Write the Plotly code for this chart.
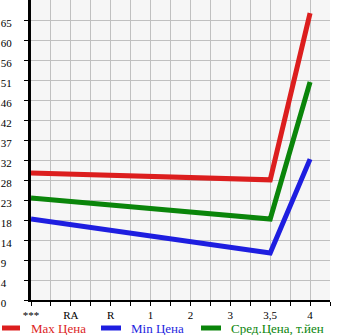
import plotly.graph_objects as go

categories = ["***", "RA", "R", "1", "2", "3", "3,5", "4"]
max_price = [29.5, None, None, None, None, None, 27.9, 66.6]
min_price = [18.8, None, None, None, None, None, 10.9, 32.7]
avg_price = [23.7, None, None, None, None, None, 18.8, 50.6]
y_tick_labels = ["0", "4", "9", "14", "18", "23", "28", "32", "37", "42", "46", "51", "56", "60", "65"]

step = 65 / 14
y_vals = [i * step for i in range(len(y_tick_labels))]
x_idx = list(range(len(categories)))
# pad single digit labels so they read left-aligned like the reference
y_text = [t + "\u2007" * (2 - len(t)) for t in y_tick_labels]

series = [
    ("Max Цена", max_price, "#dc1e1e"),
    ("Min Цена", min_price, "#1e1ee0"),
    ("Сред.Цена, т.йен", avg_price, "#0a850a"),
]

# plot area in pixels: x 31..330, y 0..300
def px_x(p):
    return (p - 31) / 299

def px_y(p):
    return (300 - p) / 300

legend_pos = [(0, 22, 29), (99, 123, 129), (199, 223, 229)]

fig = go.Figure()
for name, vals, col in series:
    fig.add_trace(go.Scatter(
        x=x_idx, y=vals, mode="lines", connectgaps=True,
        name=name, showlegend=False,
        line=dict(color=col, width=5),
    ))

for (name, vals, col), (x0, x1, xt) in zip(series, legend_pos):
    fig.add_shape(type="line", xref="paper", yref="paper",
                  x0=px_x(x0 + 2), x1=px_x(x1 - 2), y0=px_y(328), y1=px_y(328),
                  line=dict(color=col, width=5))
    fig.add_annotation(xref="paper", yref="paper", x=px_x(xt), y=px_y(328),
                       xanchor="left", yanchor="middle", showarrow=False,
                       text=name, font=dict(color=col, size=13,
                                            family="Liberation Serif"))

xt_vals = [i * 0.5 for i in range(16)]
xt_text = [categories[int(v)] if v == int(v) and int(v) < len(categories) else "" for v in xt_vals]

fig.update_layout(
    width=345, height=335,
    margin=dict(l=31, r=15, t=0, b=35),
    paper_bgcolor="white", plot_bgcolor="#f6f6f6",
    font=dict(family="Liberation Serif", size=11, color="black"),
    showlegend=False,
)
fig.update_xaxes(
    range=[0, 7.5], tickmode="array", tickvals=xt_vals, ticktext=xt_text,
    showgrid=True, gridcolor="#c0c0c0", gridwidth=1,
    showline=True, linecolor="black", linewidth=2,
    ticks="outside", ticklen=4, tickcolor="black", zeroline=False,
)
fig.update_yaxes(
    range=[0, 15 * step], tickmode="array", tickvals=y_vals, ticktext=y_text,
    showgrid=True, gridcolor="#c0c0c0", gridwidth=1,
    showline=True, linecolor="black", linewidth=3,
    ticks="outside", ticklen=4, tickcolor="black", zeroline=False,
    ticklabelstandoff=10, ticklabelshift=3,
)

fig.write_html("out.html")
